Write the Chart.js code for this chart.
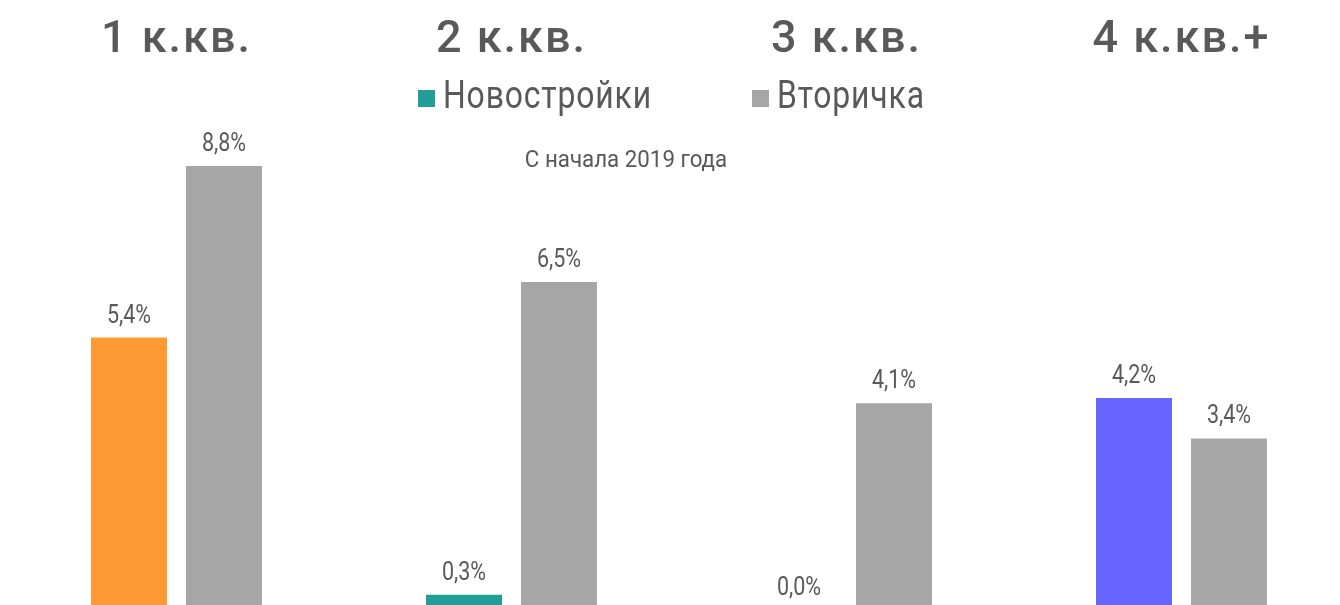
<!DOCTYPE html>
<html lang="ru">
<head>
    <meta charset="UTF-8">
    <title>Рост цен по типам квартир</title>
    <script src="https://cdn.jsdelivr.net/npm/chart.js"></script>
    <style>
        html, body { margin: 0; padding: 0; background: #fff; overflow: hidden; }
        #wrap { width: 1360px; height: 615px; }
    </style>
</head>
<body>
<div id="wrap"><canvas id="barChart" width="1360" height="615"></canvas></div>

<script>
    // Chart data
    const categories = ['1 к.кв.', '2 к.кв.', '3 к.кв.', '4 к.кв.+'];
    const newBuildValues = [5.4, 0.3, 0.0, 4.2];
    const resaleValues = [8.8, 6.5, 4.1, 3.4];
    const seriesNames = ['Новостройки', 'Вторичка'];
    const subtitleText = 'С начала 2019 года';

    const newBuildColors = ['#FF9933', '#219E97', '#A6A6A6', '#6666FF'];
    const resaleColor = '#A6A6A6';
    const textColor = '#595959';

    function fmt(v) {
        return v.toFixed(1).replace('.', ',') + '%';
    }

    // draw text squeezed horizontally (no condensed fonts available)
    function narrowText(ctx, text, x, y, sx) {
        ctx.save();
        ctx.translate(x, y);
        ctx.scale(sx, 1);
        ctx.fillText(text, 0, 0);
        ctx.restore();
    }

    // Values above each bar
    const valueLabels = {
        id: 'valueLabels',
        afterDatasetsDraw(chart) {
            const ctx = chart.ctx;
            ctx.save();
            ctx.fillStyle = textColor;
            ctx.font = '25px Roboto, sans-serif';
            ctx.textAlign = 'center';
            ctx.textBaseline = 'alphabetic';
            chart.data.datasets.forEach((ds, i) => {
                chart.getDatasetMeta(i).data.forEach((bar, j) => {
                    narrowText(ctx, fmt(ds.data[j]), bar.x, bar.y - 15, 0.86);
                });
            });
            ctx.restore();
        }
    };

    // Category titles, legend and subtitle
    const headerText = {
        id: 'headerText',
        afterDraw(chart) {
            const ctx = chart.ctx;
            const x = chart.scales.x;
            ctx.save();
            ctx.fillStyle = textColor;
            ctx.textBaseline = 'alphabetic';
            ctx.textAlign = 'center';
            ctx.font = '500 45px Roboto, sans-serif';
            ctx.letterSpacing = '2px';
            categories.forEach((c, i) => {
                ctx.fillText(c, x.getPixelForValue(i), 52);
            });

            // legend
            ctx.letterSpacing = '1px';
            ctx.font = '38px Roboto, sans-serif';
            ctx.textAlign = 'left';
            const items = [
                { text: seriesNames[0], color: newBuildColors[1], x: 418 },
                { text: seriesNames[1], color: resaleColor, x: 752 }
            ];
            items.forEach(it => {
                ctx.fillStyle = it.color;
                ctx.fillRect(it.x, 90, 17, 17);
                ctx.fillStyle = textColor;
                narrowText(ctx, it.text, it.x + 25, 108, 0.84);
            });

            ctx.letterSpacing = '0px';
            ctx.font = '24px Roboto, sans-serif';
            ctx.textAlign = 'center';
            narrowText(ctx, subtitleText, 626, 167, 0.93);
            ctx.restore();
        }
    };

    const ctx = document.getElementById('barChart').getContext('2d');
    new Chart(ctx, {
        type: 'bar',
        data: {
            labels: categories,
            datasets: [{
                label: seriesNames[0],
                data: newBuildValues,
                backgroundColor: newBuildColors
            }, {
                label: seriesNames[1],
                data: resaleValues,
                backgroundColor: resaleColor
            }]
        },
        options: {
            responsive: false,
            animation: false,
            categoryPercentage: 0.567,
            barPercentage: 0.8,
            layout: { padding: { left: 9, right: 11, top: 105.5, bottom: 5 } },
            plugins: {
                legend: { display: false },
                tooltip: { enabled: false }
            },
            scales: {
                x: { display: false },
                y: { display: false, min: 0, max: 10 }
            }
        },
        plugins: [valueLabels, headerText]
    });
</script>
</body>
</html>
